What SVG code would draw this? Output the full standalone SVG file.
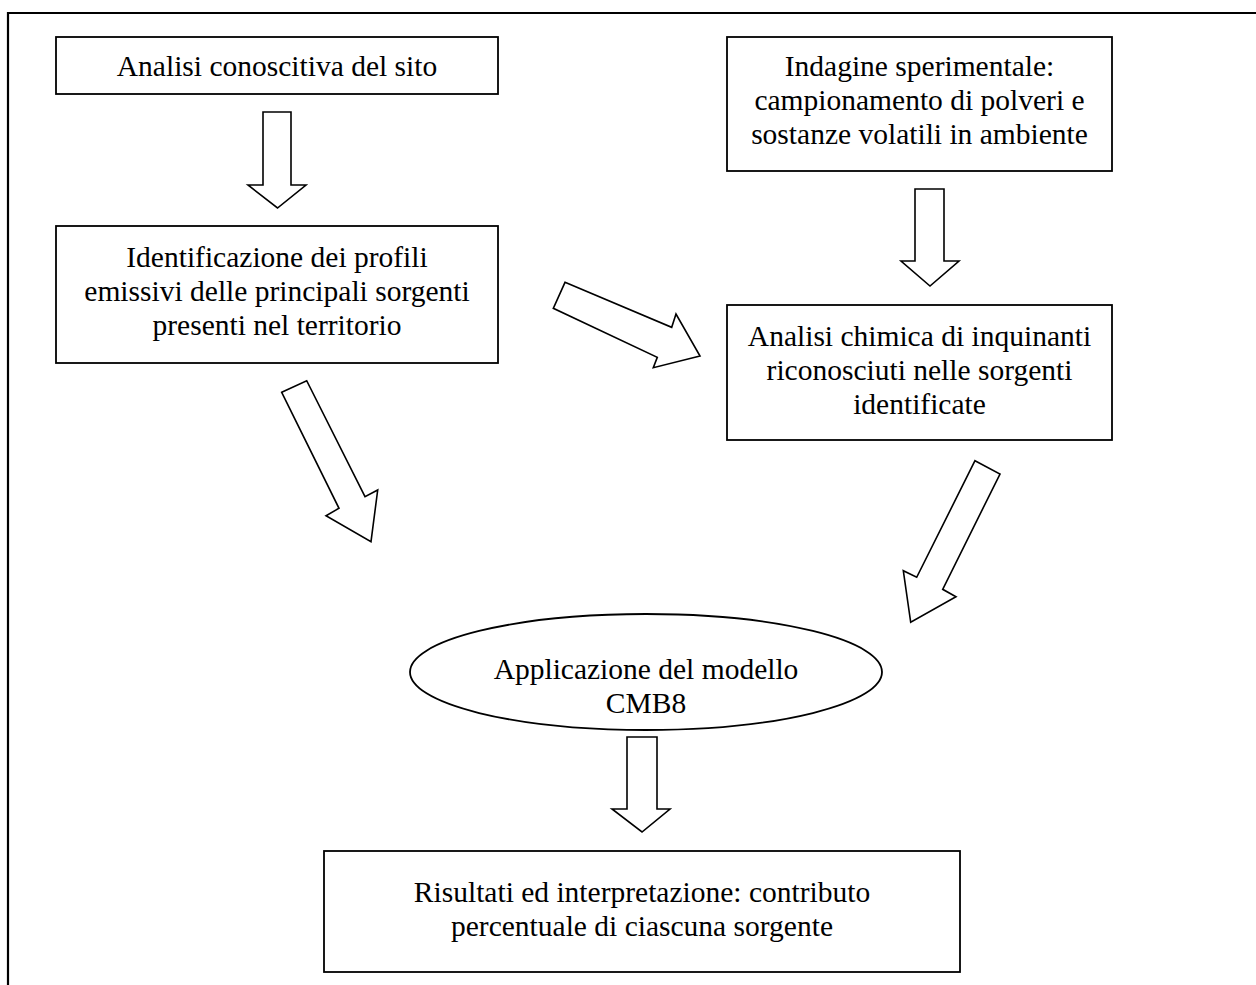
<svg xmlns="http://www.w3.org/2000/svg" width="1256" height="985" viewBox="0 0 1256 985">
<style>
.box{fill:#fff;stroke:#000;stroke-width:1.8}
.arr{fill:#fff;stroke:#000;stroke-width:1.6;stroke-linejoin:miter}
text{font-family:"Liberation Serif","Times New Roman",serif;font-size:29.5px;fill:#000;text-anchor:middle}
</style>
<rect width="1256" height="985" fill="#fff"/>
<path d="M8,985 V13 H1256" fill="none" stroke="#000" stroke-width="2.2"/>
<g id="n1"><rect class="box" x="56" y="37" width="442" height="57"/><text x="277" y="76">Analisi conoscitiva del sito</text></g>
<g id="n2"><rect class="box" x="727" y="37" width="385" height="134"/><text x="919.5" y="76">Indagine sperimentale:</text><text x="919.5" y="110">campionamento di polveri e</text><text x="919.5" y="144">sostanze volatili in ambiente</text></g>
<g id="n3"><rect class="box" x="56" y="226" width="442" height="137"/><text x="277" y="267">Identificazione dei profili</text><text x="277" y="301">emissivi delle principali sorgenti</text><text x="277" y="335">presenti nel territorio</text></g>
<g id="n4"><rect class="box" x="727" y="305" width="385" height="135"/><text x="919.5" y="346">Analisi chimica di inquinanti</text><text x="919.5" y="380">riconosciuti nelle sorgenti</text><text x="919.5" y="414">identificate</text></g>
<g id="n5"><ellipse class="box" cx="646" cy="672" rx="236" ry="58"/><text x="646" y="679">Applicazione del modello</text><text x="646" y="713">CMB8</text></g>
<g id="n6"><rect class="box" x="324" y="851" width="636" height="121"/><text x="642" y="902">Risultati ed interpretazione: contributo</text><text x="642" y="936">percentuale di ciascuna sorgente</text></g>
<g id="connectors">
<polygon class="arr" points="263,112 291,112 291,185 306,185 277.5,208 248,185 263,185"/>
<polygon class="arr" points="915,189 944,189 944,261 959,261 930,286 901,261 915,261"/>
<polygon class="arr" points="565,282.3 671.7,327.3 676,314 700,356 653.3,367.7 657.3,357.3 553.3,308.3"/>
<polygon class="arr" points="281.7,392.3 306.7,380.7 365,496.7 377.7,490 371,541.7 326,515.7 339,508.3"/>
<polygon class="arr" points="975,460.7 1000,474 942.7,589.3 956,596.7 910.7,622.3 903.3,570.7 916.7,577.3"/>
<polygon class="arr" points="627,737 657,737 657,809 670,809 642,832 612,809 627,809"/>
</g>
</svg>
